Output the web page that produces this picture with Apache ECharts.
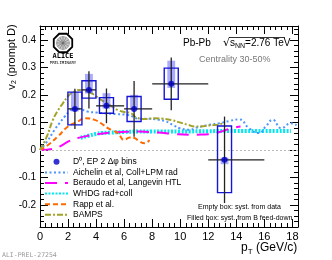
<!DOCTYPE html>
<html><head><meta charset="utf-8">
<script src="https://cdn.jsdelivr.net/npm/echarts@6/dist/echarts.min.js"></script>
<style>html,body{margin:0;padding:0;background:#fff}#c{width:332px;height:260px}</style>
</head><body><div id="c"></div>
<script>
// ---- data ----
const ptX   = [2.49, 3.49, 4.74, 6.71, 9.36, 13.16];
const v2    = [0.149, 0.218, 0.160, 0.149, 0.240, -0.036];
const binLo = [2, 3, 4, 6, 8, 12];
const binHi = [3, 4, 6, 8, 12, 16];
const statErr = [0.073, 0.068, 0.063, 0.101, 0.096, 0.157];
const sysDataLo = [0.091, 0.188, 0.133, 0.103, 0.184, -0.155];
const sysDataHi = [0.210, 0.251, 0.190, 0.194, 0.297, 0.087];
const sysBLo = [0.140, 0.205, 0.150, 0.145, 0.225, -0.052];
const sysBHi = [0.210, 0.276, 0.206, 0.200, 0.324, -0.028];

const aichX = [0, 0.5, 1.04, 1.4, 1.76, 2.1, 2.47, 2.9, 3.41, 4.0, 4.6, 5.4, 6.26, 7.11, 7.8, 8.4, 9.0, 9.5, 9.96, 10.67, 11.15, 11.6, 12.1, 12.8, 13.5, 14.2, 14.9, 15.6, 16.1, 16.6, 17.2, 17.9, 18.3];
const aichY = [0, 0.03, 0.073, 0.098, 0.121, 0.14, 0.152, 0.148, 0.139, 0.136, 0.133, 0.13, 0.127, 0.113, 0.113, 0.11, 0.103, 0.09, 0.079, 0.073, 0.081, 0.086, 0.091, 0.097, 0.105, 0.111, 0.079, 0.061, 0.085, 0.109, 0.079, 0.097, 0.09];
const berX = [0, 0.5, 1.0, 1.5, 2.0, 2.7, 3.3, 3.9, 4.5, 5.5, 6.3, 7.1, 7.8, 8.5, 9.5, 10.7, 11.5, 12.1, 12.8, 13.7, 14.3];
const berY = [0, 0.001, 0.005, 0.015, 0.03, 0.043, 0.05, 0.055, 0.06, 0.064, 0.066, 0.067, 0.065, 0.063, 0.058, 0.055, 0.056, 0.057, 0.065, 0.079, 0.085];
const whdgX = [2.9, 3.5, 4.0, 4.4, 5.0, 6.0, 7.0, 8.0, 10, 12, 14, 16, 17.9];
const whdgY = [0.044, 0.052, 0.058, 0.061, 0.063, 0.065, 0.067, 0.067, 0.067, 0.068, 0.069, 0.069, 0.069];
const rappX = [0, 0.57, 1.28, 2.0, 2.7, 3.18, 3.9, 4.4, 4.84, 5.2, 5.55, 6.02, 6.4, 6.73, 7.1, 7.47, 7.8];
const rappY = [0, 0.018, 0.049, 0.085, 0.103, 0.115, 0.109, 0.095, 0.079, 0.07, 0.061, 0.036, 0.045, 0.043, 0.03, 0.024, 0.036];
const bampsX = [0, 0.5, 0.92, 1.3, 1.64, 2.0, 2.23, 2.5, 2.82, 3.2, 3.65, 4.0, 4.36, 5.0, 5.55, 6.0, 6.5, 6.87, 7.5, 8.2, 8.77, 9.4, 9.96, 10.5, 11.1, 11.8, 12.3, 12.7, 13.0];
const bampsY = [0, 0.05, 0.109, 0.145, 0.17, 0.195, 0.206, 0.213, 0.218, 0.214, 0.206, 0.195, 0.182, 0.162, 0.145, 0.138, 0.133, 0.118, 0.112, 0.115, 0.113, 0.108, 0.10, 0.092, 0.085, 0.087, 0.09, 0.091, 0.097];

const xTickLabels = [0, 2, 4, 6, 8, 10, 12, 14, 16, 18];
const yTickLabels = [-0.2, -0.1, 0, 0.1, 0.2, 0.3, 0.4];
const seriesNames = ['D\u2070, EP 2 \u0394\u03c6 bins', 'Aichelin et al, Coll+LPM rad', 'Beraudo et al, Langevin HTL', 'WHDG rad+coll', 'Rapp et al.', 'BAMPS'];

// ---- helpers ----
const X_MIN = 0, X_MAX = 18.4, Y_MIN = -0.28, Y_MAX = 0.45;
const xMinor = [], yMinor = [];
for (let k = 0; k * 0.4 <= X_MAX + 1e-9; k++) xMinor.push(+(k * 0.4).toFixed(2));
for (let k = 0; Y_MIN + k * 0.02 <= Y_MAX + 1e-9; k++) yMinor.push(+(Y_MIN + k * 0.02).toFixed(3));
const zip = (a, b) => a.map((v, i) => [v, b[i]]);
const BOX_HW = 0.5, FBOX_HW = 0.28;

const errData = ptX.map((x, i) => [x, v2[i], binLo[i], binHi[i], v2[i] - statErr[i], v2[i] + statErr[i]]);
const boxData = ptX.map((x, i) => [x - BOX_HW, x + BOX_HW, sysDataLo[i], sysDataHi[i]]);
const fboxData = ptX.map((x, i) => [x - FBOX_HW, x + FBOX_HW, sysBLo[i], sysBHi[i]]);

function rectRender(style) {
  return function (params, api) {
    const p1 = api.coord([api.value(0), api.value(3)]);
    const p2 = api.coord([api.value(1), api.value(2)]);
    return { type: 'rect', shape: { x: p1[0], y: p1[1], width: p2[0] - p1[0], height: p2[1] - p1[1] }, style: style };
  };
}
function errRender(params, api) {
  const c = api.coord([api.value(0), api.value(1)]);
  const l = api.coord([api.value(2), api.value(1)]);
  const r = api.coord([api.value(3), api.value(1)]);
  const lo = api.coord([api.value(0), api.value(4)]);
  const hi = api.coord([api.value(0), api.value(5)]);
  const st = { stroke: '#222', lineWidth: 1.3 };
  return { type: 'group', children: [
    { type: 'line', shape: { x1: l[0], y1: c[1], x2: r[0], y2: c[1] }, style: st },
    { type: 'line', shape: { x1: c[0], y1: lo[1], x2: c[0], y2: hi[1] }, style: st }
  ] };
}

const baseX = { type: 'value', min: X_MIN, max: X_MAX, splitLine: { show: false }, gridIndex: 0, offset: 0 };
const baseY = { type: 'value', min: Y_MIN, max: Y_MAX, splitLine: { show: false }, gridIndex: 0, offset: 0 };
const ax = { onZero: false, lineStyle: { color: '#000', width: 1 } };
const noAx = { show: false, onZero: false };
const tk = (vals, len) => ({ inside: true, length: len, customValues: vals, lineStyle: { color: '#000', width: 1 } });

const lineColors = ['#0000c8', '#4d94ff', '#ff00ff', '#00e8f0', '#ff6a00', '#a3a32a'];

const option = {
  animation: false,
  grid: { left: 40, right: 34, top: 26, bottom: 33 },
  xAxis: [
    Object.assign({}, baseX, { position: 'bottom', axisLine: ax, axisTick: tk(xTickLabels, 8), axisLabel: { customValues: xTickLabels, fontSize: 11, color: '#000', margin: 4, fontFamily: 'Liberation Sans' } }),
    Object.assign({}, baseX, { position: 'bottom', axisLine: noAx, axisTick: tk(xMinor, 4), axisLabel: { show: false } }),
    Object.assign({}, baseX, { position: 'top', axisLine: ax, axisTick: tk(xTickLabels, 8), axisLabel: { show: false } }),
    Object.assign({}, baseX, { position: 'top', axisLine: noAx, axisTick: tk(xMinor, 4), axisLabel: { show: false } })
  ],
  yAxis: [
    Object.assign({}, baseY, { position: 'left', axisLine: ax, axisTick: tk(yTickLabels, 8), axisLabel: { customValues: yTickLabels, fontSize: 10, color: '#000', margin: 4, fontFamily: 'Liberation Sans' } }),
    Object.assign({}, baseY, { position: 'left', axisLine: noAx, axisTick: tk(yMinor, 4), axisLabel: { show: false } }),
    Object.assign({}, baseY, { position: 'right', axisLine: ax, axisTick: tk(yTickLabels, 8), axisLabel: { show: false } }),
    Object.assign({}, baseY, { position: 'right', axisLine: noAx, axisTick: tk(yMinor, 4), axisLabel: { show: false } })
  ],
  legend: {
    orient: 'vertical', left: 39, top: 152, itemWidth: 23, itemHeight: 6, itemGap: 1, itemTextGap: 5,
    textStyle: { fontSize: 8.5, color: '#000', fontFamily: 'Liberation Sans', lineHeight: 9.6 },
    data: seriesNames.map((n, i) => i === 0 ? { name: n, itemStyle: { color: lineColors[0] } } : { name: n, itemStyle: { opacity: 0 } })
  },
  series: [
    { type: 'line', name: seriesNames[3], data: zip(whdgX, whdgY), symbol: 'none', smooth: true, z: 2, itemStyle: { color: lineColors[3] }, lineStyle: { color: lineColors[3], width: 4, type: [2, 1.5] } },
    { type: 'line', name: seriesNames[1], data: zip(aichX, aichY), symbol: 'none', smooth: true, z: 3, itemStyle: { color: lineColors[1] }, lineStyle: { color: lineColors[1], width: 2, type: [2, 2.5] } },
    { type: 'line', name: seriesNames[2], data: zip(berX, berY), symbol: 'none', smooth: true, z: 3, itemStyle: { color: lineColors[2] }, lineStyle: { color: lineColors[2], width: 2, type: [12, 8] } },
    { type: 'line', name: seriesNames[4], data: zip(rappX, rappY), symbol: 'none', smooth: true, z: 3, itemStyle: { color: lineColors[4] }, lineStyle: { color: lineColors[4], width: 2, type: [5, 3] } },
    { type: 'line', name: seriesNames[5], data: zip(bampsX, bampsY), symbol: 'none', smooth: true, z: 3, itemStyle: { color: lineColors[5] }, lineStyle: { color: lineColors[5], width: 2, type: [6, 2, 2, 2] },
      markLine: { silent: true, symbol: 'none', label: { show: false }, lineStyle: { color: '#bbb', width: 1, type: [2, 2] }, data: [{ yAxis: 0 }] } },
    { type: 'custom', name: 'fbox', data: fboxData, renderItem: rectRender({ fill: 'rgba(100,100,255,0.55)' }), z: 4 },
    { type: 'custom', name: 'ebox', data: boxData, renderItem: rectRender({ fill: 'none', stroke: '#1515d6', lineWidth: 1.4 }), z: 5 },
    { type: 'custom', name: 'err', data: errData, renderItem: errRender, z: 6 },
    { type: 'scatter', name: seriesNames[0], data: zip(ptX, v2), symbol: 'circle', symbolSize: 6, itemStyle: { color: lineColors[0] }, z: 7 }
  ],
  graphic: [
    { type: 'text', x: 12, y: 57, rotation: Math.PI / 2, style: { text: 'v\u2082 (prompt D)', fontSize: 11, fill: '#000', fontFamily: 'Liberation Sans', align: 'center', verticalAlign: 'middle' } },
    { type: 'text', x: 241, y: 240, style: { text: '{a|p}{b|T}{a| (GeV/c)}', rich: { a: { fontSize: 12, fontFamily: 'Liberation Sans', fill: '#000' }, b: { fontSize: 8, fontFamily: 'Liberation Sans', fill: '#000', padding: [8, 0, 0, 0] } } } },
    { type: 'text', x: 183, y: 38, style: { text: 'Pb-Pb', fontSize: 10, fontFamily: 'Liberation Sans', fill: '#000' } },
    { type: 'text', x: 223, y: 37, style: { text: '{r|\u221a}{a|s}{b|NN}{a|=2.76 TeV}', rich: { r: { fontSize: 11, fontFamily: 'DejaVu Sans', fill: '#000' }, a: { fontSize: 10, fontFamily: 'Liberation Sans', fill: '#000' }, b: { fontSize: 7, fontFamily: 'Liberation Sans', fill: '#000', padding: [6, 0, 0, 0] } } } },
    { type: 'line', shape: { x1: 229, y1: 37.5, x2: 285, y2: 37.5 }, style: { stroke: '#000', lineWidth: 0.8 } },
    { type: 'text', x: 199, y: 55, style: { text: 'Centrality 30-50%', fontSize: 9, fontFamily: 'Liberation Sans', fill: '#777' } },
    { type: 'text', x: 198, y: 204, style: { text: 'Empty box: syst. from data', fontSize: 7, fontFamily: 'Liberation Sans', fill: '#000' } },
    { type: 'text', x: 187, y: 215, style: { text: 'Filled box: syst. from B feed-down', fontSize: 7, fontFamily: 'Liberation Sans', fill: '#000' } },
    { type: 'text', x: 2, y: 252, style: { text: 'ALI-PREL-27254', fontSize: 6.5, fontFamily: 'DejaVu Sans Mono', fill: '#999' } },
    // ALICE logo
    { type: 'polygon', shape: { points: [0,1,2,3,4,5,6,7].map(k => { const a = Math.PI / 8 + k * Math.PI / 4; return [63 + 10 * Math.cos(a), 43 + 10 * Math.sin(a)]; }) }, style: { fill: '#fff', stroke: '#000', lineWidth: 1.8 } },
    { type: 'circle', shape: { cx: 63, cy: 43, r: 6.5 }, style: { fill: '#ccc', stroke: '#888', lineWidth: 0.6 } },
    ...[0,1,2,3,4,5,6,7,8,9,10,11].map(k => { const a = k * Math.PI / 6; return { type: 'line', shape: { x1: 63, y1: 43, x2: 63 + 6.5 * Math.cos(a), y2: 43 + 6.5 * Math.sin(a) }, style: { stroke: '#666', lineWidth: 0.6 } }; }),
    { type: 'text', x: 63, y: 53, style: { text: 'ALICE', fontSize: 7, fontWeight: 'bold', fontFamily: 'DejaVu Sans Mono', fill: '#000', align: 'center' } },
    { type: 'text', x: 63, y: 60.5, style: { text: 'PRELIMINARY', fontSize: 4, fontFamily: 'DejaVu Sans Mono', fill: '#000', align: 'center' } }
  ]
};
const chart = echarts.init(document.getElementById('c'), null, { renderer: 'canvas' });
chart.setOption(option);
</script></body></html>
